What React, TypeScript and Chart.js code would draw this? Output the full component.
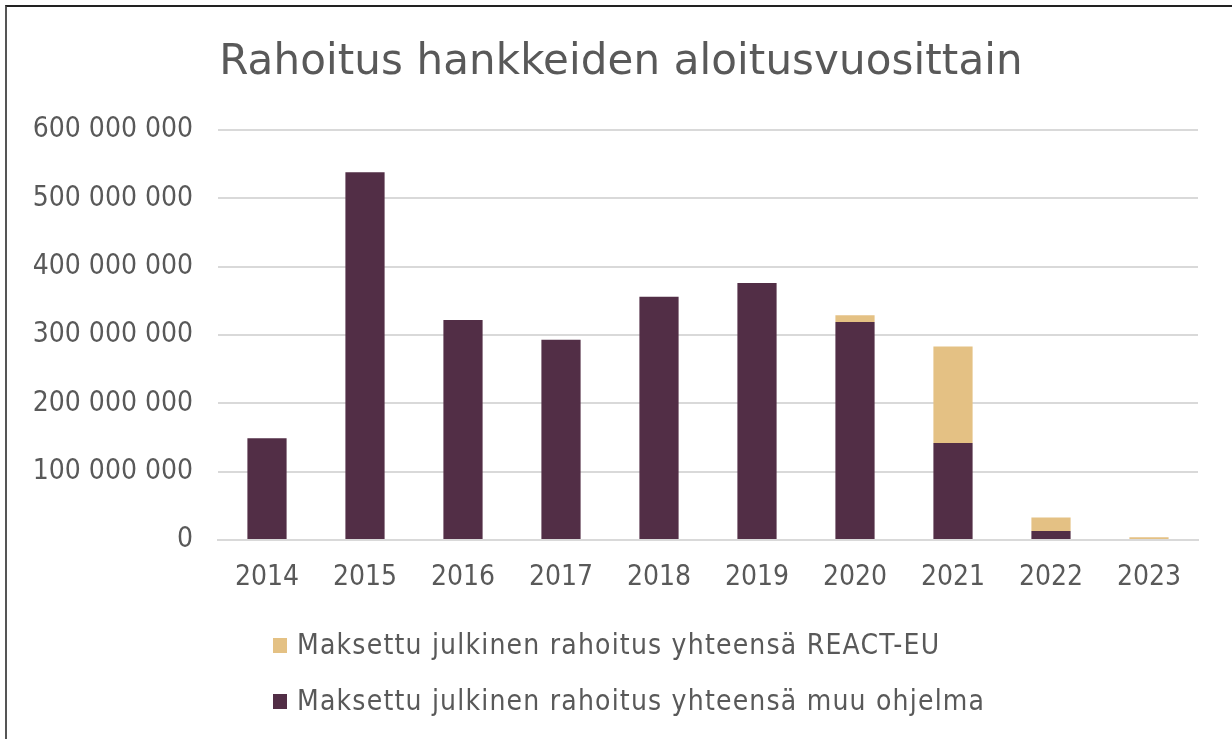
import React, { useEffect, useRef } from "react";
import { Chart, registerables } from "chart.js";

Chart.register(...registerables);

const years = ["2014", "2015", "2016", "2017", "2018", "2019", "2020", "2021", "2022", "2023"];
const muuValues = [149e6, 538e6, 322e6, 293e6, 356e6, 376e6, 319e6, 142e6, 13e6, 0];
const reactValues = [0, 0, 0, 0, 0, 0, 10e6, 141e6, 20e6, 4e6];
const reactLabel = "Maksettu julkinen rahoitus yhteensä REACT-EU";
const muuLabel = "Maksettu julkinen rahoitus yhteensä muu ohjelma";
const titleText = "Rahoitus hankkeiden aloitusvuosittain";

const MUU_COLOR = "#522E46";
const REACT_COLOR = "#E4C184";
const TEXT_COLOR = "#595959";
const FONT = "'DejaVu Sans Condensed', 'DejaVu Sans', sans-serif";
const TITLE_FONT = "'DejaVu Sans', sans-serif";

function fmt(v: number): string {
  return String(Math.round(v)).replace(/\B(?=(\d{3})+(?!\d))/g, " ");
}

export default function App() {
  const ref = useRef<HTMLCanvasElement | null>(null);

  useEffect(() => {
    if (!ref.current) return;
    const chart = new Chart(ref.current, {
      type: "bar",
      data: {
        labels: years,
        datasets: [
          { label: muuLabel, data: muuValues, backgroundColor: MUU_COLOR, barPercentage: 0.4, categoryPercentage: 1 },
          { label: reactLabel, data: reactValues, backgroundColor: REACT_COLOR, barPercentage: 0.4, categoryPercentage: 1 },
        ],
      },
      options: {
        animation: false,
        responsive: false,
        maintainAspectRatio: false,
        layout: { padding: { left: 0, right: 34, top: 130, bottom: 119 } },
        plugins: {
          legend: { display: false },
          tooltip: { enabled: false },
          title: { display: false },
        },
        scales: {
          x: {
            stacked: true,
            grid: { display: false, drawTicks: false },
            border: { display: true, color: "#d9d9d9", width: 2 },
            ticks: { color: TEXT_COLOR, font: { family: FONT, size: 28 }, padding: 21 },
            afterFit: (s: any) => { s.height = 80; },
          },
          y: {
            stacked: true,
            min: 0,
            max: 600e6,
            grid: { color: "#d9d9d9", lineWidth: 2, drawTicks: false },
            border: { display: false },
            ticks: {
              stepSize: 100e6,
              color: TEXT_COLOR,
              font: { family: FONT, size: 28 },
              padding: 25,
              callback: (v: any) => fmt(Number(v)),
            },
            afterFit: (s: any) => { s.width = 218; },
          },
        },
      },
    });
    return () => chart.destroy();
  }, []);

  const legendItems = [
    { label: reactLabel, color: REACT_COLOR, top: 629 },
    { label: muuLabel, color: MUU_COLOR, top: 685 },
  ];

  return (
    <div style={{ position: "fixed", left: 0, top: 0, width: 1232, height: 739, background: "#fff", overflow: "hidden" }}>
      <div style={{ position: "absolute", left: 5, top: 5, right: -10, bottom: -10, borderLeft: "2px solid #555", borderTop: "2px solid #222" }} />
      <canvas ref={ref} width={1232} height={739} style={{ position: "absolute", left: 0, top: 0, width: 1232, height: 739 }} />
      <div style={{ position: "absolute", left: 0, top: 35, width: 1242, textAlign: "center", fontFamily: TITLE_FONT, fontSize: 42, lineHeight: "50px", color: TEXT_COLOR, whiteSpace: "nowrap", letterSpacing: "0.1px" }}>
        {titleText}
      </div>
      {legendItems.map((it) => (
        <div key={it.label} style={{ position: "absolute", left: 273, top: it.top, display: "flex", alignItems: "center", fontFamily: FONT, fontSize: 28, letterSpacing: "1.2px", color: TEXT_COLOR, whiteSpace: "nowrap", lineHeight: "32px" }}>
          <span style={{ display: "inline-block", width: 14, height: 15, background: it.color, marginRight: 10 }} />
          <span>{it.label}</span>
        </div>
      ))}
    </div>
  );
}
